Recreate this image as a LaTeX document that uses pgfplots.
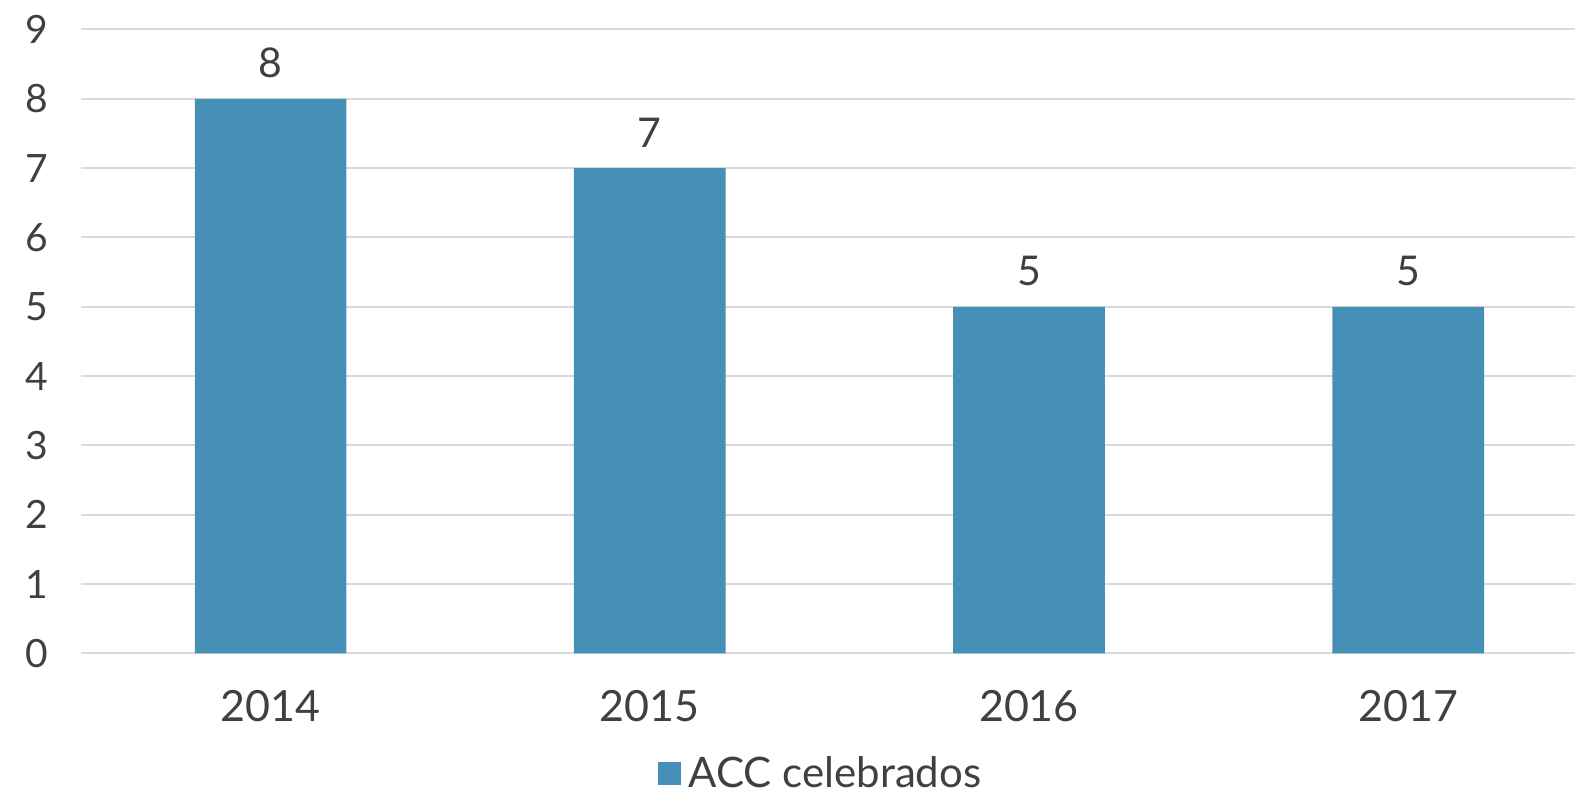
\documentclass[border=0pt]{standalone}
\usepackage{fontspec}
\setmainfont{Lato}
\usepackage{pgfplots}
\pgfplotsset{compat=1.18}
\definecolor{barblue}{HTML}{4690B8}
\definecolor{txtgray}{HTML}{404040}
\definecolor{gridgray}{HTML}{D9D9D9}

\pgfplotstableread{
x year value
0 2014 8
1 2015 7
2 2016 5
3 2017 5
}\acc

\begin{document}
\begin{tikzpicture}
\useasboundingbox (-40.5pt,-71.75pt) rectangle (747pt,326.75pt);
\begin{axis}[
  scale only axis, width=747pt, height=312pt,
  xmin=-0.5, xmax=3.44, ymin=0, ymax=9,
  axis line style={draw=none},
  ytick={0,...,9}, xtick=data,
  xticklabels={2014,2015,2016,2017},
  ymajorgrids, major grid style={gridgray, line width=1pt},
  tick style={draw=none},
  /pgf/number format/assume math mode=true,
  yticklabel style={font=\fontsize{19.5}{22}\selectfont, text=txtgray, xshift=-13pt},
  xticklabel style={font=\fontsize{21.5}{24}\selectfont, text=txtgray, yshift=-15pt},
  clip=false,
  legend style={draw=none, fill=none, at={(0.497,-0.193)}, anchor=center,
    font=\fontsize{21}{24}\selectfont, text=txtgray,
    nodes={inner xsep=4pt, inner ysep=0pt}},
  legend image code/.code={\fill[barblue] (0pt,-5.75pt) rectangle (11.5pt,5.75pt);},
]
\addplot[ybar, bar width=0.4, fill=barblue, draw=none,
  nodes near coords, every node near coord/.append style={font=\fontsize{20.5}{24}\selectfont, text=txtgray, yshift=7pt}]
  table[x=x, y=value] {\acc};
\addlegendentry{ACC celebrados}
\end{axis}
\end{tikzpicture}
\end{document}
